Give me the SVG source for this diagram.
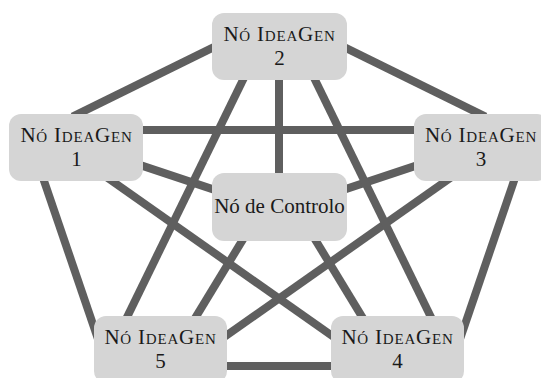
<svg xmlns="http://www.w3.org/2000/svg" width="541" height="378" viewBox="0 0 541 378">
  <style>
    .edge { stroke: #5f5f5f; stroke-width: 8; stroke-linecap: butt; fill: none; }
    .box { fill: #d5d5d5; }
    .lbl { font-size: 21px; fill: #1a1a1a; text-anchor: middle; }
    .sc { font-variant: small-caps; letter-spacing: 0.8px; }
  </style>
  <rect width="541" height="378" fill="#ffffff"/>

  <!-- connectors, drawn beneath the nodes -->
  <g id="connectors">
    <line class="edge" x1="217.4" y1="45.3" x2="72.6" y2="116.7"/>
    <line class="edge" x1="340.6" y1="45.3" x2="485.4" y2="116.7"/>
    <line class="edge" x1="139" y1="130" x2="418" y2="130"/>
    <line class="edge" x1="279" y1="76" x2="279" y2="177"/>
    <line class="edge" x1="137.3" y1="164.1" x2="217.7" y2="190.9"/>
    <line class="edge" x1="420.7" y1="164.1" x2="340.3" y2="190.9"/>
    <line class="edge" x1="42.1" y1="175.3" x2="97.9" y2="338.7"/>
    <line class="edge" x1="515.9" y1="175.3" x2="460.1" y2="338.7"/>
    <line class="edge" x1="107.1" y1="177.5" x2="335.9" y2="338.5"/>
    <line class="edge" x1="450.9" y1="177.5" x2="222.1" y2="338.5"/>
    <line class="edge" x1="245.6" y1="74.6" x2="125.4" y2="320.4"/>
    <line class="edge" x1="312.4" y1="74.6" x2="432.6" y2="320.4"/>
    <line class="edge" x1="245.1" y1="235.9" x2="193.9" y2="320.1"/>
    <line class="edge" x1="312.9" y1="235.9" x2="364.1" y2="320.1"/>
    <line class="edge" x1="223" y1="366" x2="335" y2="366"/>
  </g>

  <g font-family="'Liberation Serif', 'DejaVu Serif', 'Times New Roman', serif">
    <g id="node2">
      <rect class="box" x="212" y="13" width="135" height="67" rx="12"/>
      <text class="lbl sc" x="279.5" y="41">Nó IdeaGen</text>
      <text class="lbl" x="279.5" y="65">2</text>
    </g>
    <g id="node1">
      <rect class="box" x="9" y="114" width="134" height="67" rx="12"/>
      <text class="lbl sc" x="76.5" y="142">Nó IdeaGen</text>
      <text class="lbl" x="76.5" y="166">1</text>
    </g>
    <g id="node3">
      <rect class="box" x="414" y="114" width="135" height="67" rx="12"/>
      <text class="lbl sc" x="481" y="142">Nó IdeaGen</text>
      <text class="lbl" x="481" y="166">3</text>
    </g>
    <g id="nodeControl">
      <rect class="box" x="212" y="173" width="135" height="68" rx="12"/>
      <text class="lbl" x="279.5" y="213">Nó de Controlo</text>
    </g>
    <g id="node5">
      <rect class="box" x="94" y="316" width="133" height="67" rx="12"/>
      <text class="lbl sc" x="160.5" y="344">Nó IdeaGen</text>
      <text class="lbl" x="160.5" y="368">5</text>
    </g>
    <g id="node4">
      <rect class="box" x="331" y="316" width="133" height="67" rx="12"/>
      <text class="lbl sc" x="397.5" y="344">Nó IdeaGen</text>
      <text class="lbl" x="397.5" y="368">4</text>
    </g>
  </g>
</svg>
